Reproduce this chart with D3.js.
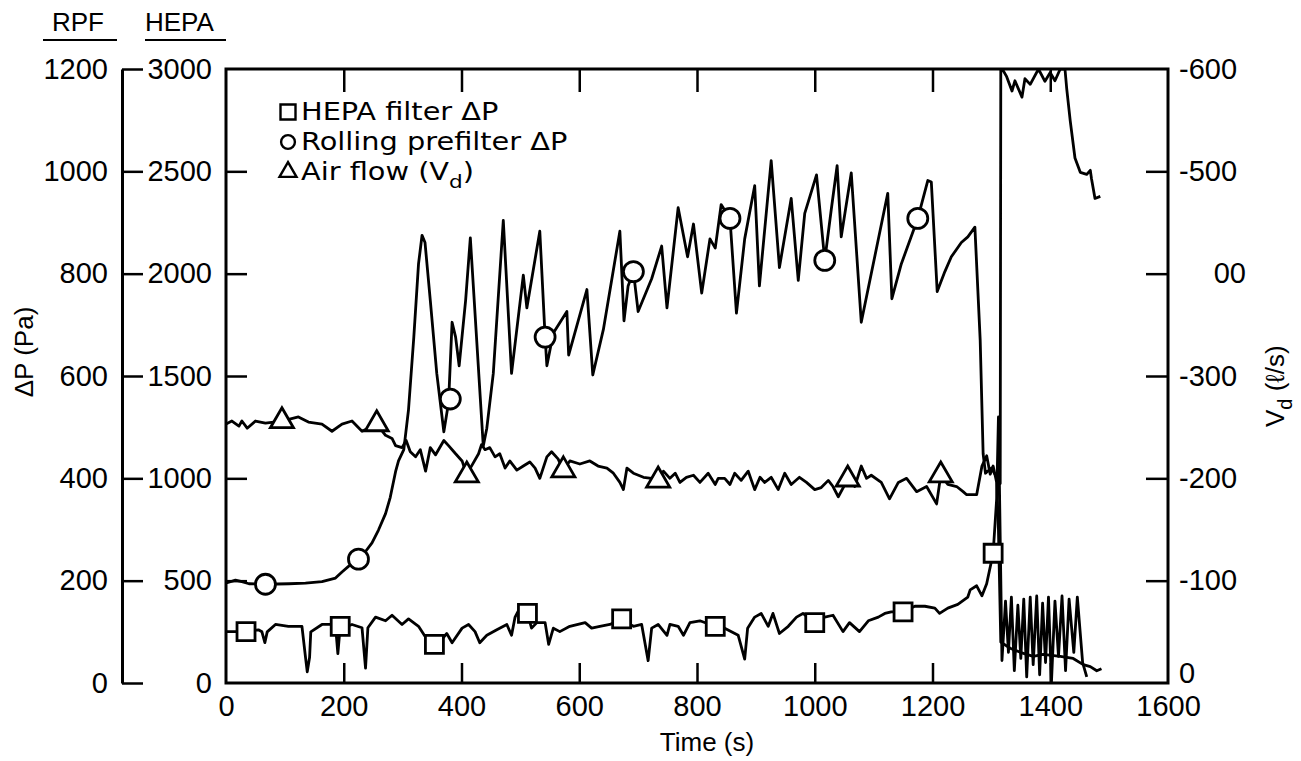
<!DOCTYPE html>
<html>
<head>
<meta charset="utf-8">
<script src="https://cdn.jsdelivr.net/npm/d3@7"></script>
<style>
  body { margin: 0; background: #fff; }
  svg { display: block; }
  .tick text { font-family: "Liberation Sans", Arial, sans-serif; font-size: 29px; fill: #000; }
  .tick line { stroke: #000; stroke-width: 2.5; }
  .lbl { font-family: "Liberation Sans", Arial, sans-serif; fill: #000; }
</style>
</head>
<body>
<svg id="chart" width="1301" height="761"></svg>
<script>
// ---- data ----
const timeTicks = [0, 200, 400, 600, 800, 1000, 1200, 1400, 1600];
const hepaTicks = [0, 500, 1000, 1500, 2000, 2500, 3000];
const rpfTicks = [0, 200, 400, 600, 800, 1000, 1200];
const flowTicks = [0, 100, 200, 300, 400, 500, 600];
const flowTickLabels = ["0", "-100", "-200", "-300", "00", "-500", "-600"];

// rolling prefilter dP (Pa, RPF axis)
const rpfTime = [0, 2, 16, 27, 39, 67, 107, 135, 163, 186, 197, 208, 225, 237, 248, 259, 271, 279, 288, 293, 302, 310, 319, 327, 333, 338, 347, 358, 370, 378, 384, 390, 396, 407, 415,
  437, 443, 454, 471, 485, 505, 511, 533, 542, 545, 556, 579, 582, 613, 623, 641, 669, 676, 683, 692, 700, 723, 740, 749, 768, 784, 794, 808, 822, 831,
  841, 856, 867, 881, 898, 906, 926, 940, 960, 972, 983, 1003, 1017, 1028, 1038, 1045, 1062, 1079, 1124, 1131, 1147, 1175, 1192, 1198, 1208, 1221, 1232, 1249, 1260, 1272,
  1281, 1286, 1290, 1300, 1310, 1315, 1316, 1326, 1335, 1340, 1352, 1357, 1366, 1380, 1391, 1400, 1408, 1417, 1425, 1428, 1434, 1442, 1451, 1462, 1468, 1470, 1476, 1485];
const rpfDP = [198, 196, 201, 198, 194, 193, 194, 195, 198, 205, 217, 228, 242, 257, 274, 299, 331, 363, 413, 434, 456, 534, 676, 819, 875, 861, 748, 605, 491, 548, 705, 676, 620, 748, 870,
  463, 498, 605, 904, 605, 797, 733, 883, 676, 620, 684, 726, 641, 769, 602, 691, 883, 708, 776, 804, 726, 790, 854, 733, 929, 833, 897, 762, 868, 850,
  935, 908, 723, 868, 972, 776, 1021, 812, 947, 787, 918, 993, 826, 925, 1011, 872, 997, 705, 957, 751, 819, 908, 982, 979, 765, 804, 833, 861, 872, 891,
  670, 448, 410, 420, 400, 390, 1205, 1185, 1157, 1177, 1145, 1181, 1170, 1200, 1176, 1193, 1177, 1200, 1200, 1161, 1098, 1026, 998, 994, 1002, 986, 947, 951];
const rpfMarkTime = [67, 225, 381, 542, 692, 856, 1017, 1175];
const rpfMarkDP = [193, 242, 555, 676, 804, 908, 826, 908];

// HEPA filter dP (Pa, HEPA axis)
const hepaTime = [0, 34, 55, 61, 66, 70, 84, 106, 129, 135, 138, 142, 144, 163, 180, 186, 190, 194, 200, 214, 231, 237, 241, 254, 271, 282, 299, 310, 327, 341, 354, 367, 375, 384, 401, 412,
  423, 431, 443, 460, 477, 485, 491, 499, 512, 519, 528, 542, 548, 556, 567, 584, 610, 621, 635, 652, 672, 681, 692, 706, 717, 723, 734, 749, 754, 768, 777, 788, 805, 822, 831,
  847, 870, 881, 886, 898, 909, 921, 929, 940, 955, 969, 980, 1000, 1017, 1031, 1048, 1059, 1076, 1091, 1108, 1119, 1130, 1150, 1170, 1187, 1204, 1212, 1226, 1243, 1260, 1264, 1275, 1284, 1292, 1303, 1309, 1312,
  1318, 1324, 1329, 1334, 1339, 1345, 1350, 1355, 1360, 1366, 1371, 1377, 1382, 1387, 1392, 1397, 1402, 1408, 1414, 1420, 1426, 1432, 1440, 1446, 1455, 1462];
const hepaDP = [251, 251, 260, 250, 197, 250, 286, 277, 277, 126, 55, 126, 250, 286, 286, 280, 144, 277, 270, 286, 270, 73, 270, 322, 304, 331, 286, 313, 277, 215, 189, 215, 242, 197, 268, 286,
  251, 197, 233, 260, 286, 233, 322, 366, 340, 268, 295, 295, 189, 268, 251, 277, 295, 268, 277, 286, 313, 295, 277, 286, 109, 268, 286, 233, 286, 277, 233, 295, 304, 286, 277,
  268, 233, 117, 268, 322, 340, 277, 340, 242, 277, 322, 340, 295, 322, 331, 251, 295, 251, 304, 322, 340, 348, 348, 375, 375, 366, 340, 366, 384, 420, 455, 475, 426, 485, 634, 900, 1300,
  110, 400, 150, 420, 60, 380, 120, 410, 30, 420, 90, 425, 40, 390, 100, 420, 0, 400, 130, 425, 60, 410, 150, 420, 100, 30];
const hepaMarkTime = [34, 194, 354, 512, 672, 831, 1000, 1150, 1303];
const hepaMarkDP = [251, 277, 189, 340, 313, 277, 295, 348, 634];

// air flow Vd (l/s, right axis)
const flowTime = [0, 10, 22, 27, 36, 50, 67, 95, 123, 140, 163, 180, 197, 214, 231, 256, 271, 282, 288, 299, 306, 313, 322, 330, 339, 347, 356, 370, 378, 390, 401, 409,
  415, 429, 434, 440, 448, 457, 465, 474, 482, 494, 505, 516, 525, 533, 545, 553, 564, 573, 584, 601, 618, 632, 647, 658, 669, 675, 681, 692, 709, 723, 734,
  743, 754, 763, 771, 782, 794, 805, 819, 831, 836, 847, 856, 864, 875, 887, 898, 907, 915, 926, 938, 949, 960, 974, 986, 1000, 1011, 1023, 1031, 1040, 1056,
  1068, 1079, 1088, 1096, 1113, 1127, 1142, 1156, 1173, 1190, 1207, 1214, 1226, 1241, 1252, 1258, 1275, 1284, 1292, 1298, 1303, 1309, 1312, 1316,
  1332, 1349, 1371, 1388, 1417, 1439, 1456, 1468, 1479, 1487];
const flowVd = [253, 256, 251, 256, 249, 256, 254, 256, 260, 255, 253, 246, 253, 256, 246, 253, 242, 239, 232, 230, 237, 226, 221, 228, 207, 230, 223, 237, 232, 224, 217, 203,
  210, 224, 233, 228, 230, 221, 224, 210, 217, 208, 212, 216, 210, 200, 221, 226, 219, 208, 217, 214, 217, 212, 210, 205, 196, 189, 210, 205, 201, 200, 198,
  207, 200, 205, 196, 201, 203, 196, 205, 194, 200, 200, 194, 205, 198, 207, 189, 201, 196, 201, 189, 205, 194, 201, 196, 189, 191, 198, 192, 182, 199,
  192, 212, 200, 203, 196, 180, 196, 200, 187, 192, 175, 203, 194, 192, 187, 184, 184, 212, 222, 204, 212, 196, 150, 40,
  34, 30, 26, 28, 26, 24, 18, 16, 12, 14];
const flowMarkTime = [95, 256, 409, 573, 734, 1056, 1214];
const flowMarkVd = [256, 253, 203, 208, 198, 199, 203];

// ---- chart ----
const svg = d3.select("#chart");

const x = d3.scaleLinear().domain([0, 1600]).range([226, 1168]);
const yHepa = d3.scaleLinear().domain([0, 3000]).range([683, 69]);
const yRpf = d3.scaleLinear().domain([0, 1200]).range([683, 69]);
const yFlow = d3.scaleLinear().domain([0, 600]).range([683, 69]);
const fmt = d3.format("d");

svg.append("defs").append("clipPath").attr("id", "plot")
  .append("rect")
  .attr("x", x(0)).attr("y", yHepa(3000))
  .attr("width", x(1600) - x(0)).attr("height", yHepa(0) - yHepa(3000));

// bottom axis, ticks point inward
const xb = svg.append("g")
  .attr("transform", `translate(0,${yHepa(0)})`)
  .call(d3.axisBottom(x).tickValues(timeTicks).tickFormat(fmt).tickSizeInner(-20).tickSizeOuter(0).tickPadding(12));
xb.select(".domain").remove();
xb.selectAll(".tick").filter(d => d === 0 || d === 1600).select("line").remove();

// top axis, ticks only
const xt = svg.append("g")
  .attr("transform", `translate(0,${yHepa(3000)})`)
  .call(d3.axisTop(x).tickValues(timeTicks.slice(1, -1)).tickSizeInner(-23).tickSizeOuter(0).tickFormat(""));
xt.select(".domain").remove();

// HEPA axis on the frame
const yh = svg.append("g")
  .attr("transform", `translate(${x(0)},0)`)
  .call(d3.axisLeft(yHepa).tickValues(hepaTicks).tickFormat(fmt).tickSizeInner(-21).tickSizeOuter(0).tickPadding(14));
yh.select(".domain").remove();
yh.selectAll(".tick").filter(d => d === 0 || d === 3000).select("line").remove();

// RPF axis, separate line further left
const yr = svg.append("g")
  .attr("transform", "translate(122,0)")
  .call(d3.axisLeft(yRpf).tickValues(rpfTicks).tickFormat(fmt).tickSizeInner(-21).tickSizeOuter(0).tickPadding(14));
yr.select(".domain").attr("stroke-width", 3);

// Vd axis on the right
const yf = svg.append("g")
  .attr("transform", `translate(${x(1600)},0)`)
  .call(d3.axisRight(yFlow).tickValues(flowTicks).tickSizeInner(-22).tickSizeOuter(0).tickPadding(11)
    .tickFormat((d, i) => flowTickLabels[i]));
yf.select(".domain").remove();
yf.selectAll(".tick").filter(d => d === 0 || d === 600).select("line").remove();
yf.selectAll(".tick").filter(d => d === 400).select("text").attr("text-anchor", "end").attr("x", 78);
yf.selectAll(".tick").filter(d => d === 0).select("text").attr("y", -10);

// frame
svg.append("rect")
  .attr("x", x(0)).attr("y", yHepa(3000))
  .attr("width", x(1600) - x(0)).attr("height", yHepa(0) - yHepa(3000))
  .attr("fill", "none").attr("stroke", "#000").attr("stroke-width", 3);

// lines
const series = [
  { t: rpfTime, v: rpfDP, y: yRpf },
  { t: hepaTime, v: hepaDP, y: yHepa },
  { t: flowTime, v: flowVd, y: yFlow }
];
const plot = svg.append("g").attr("clip-path", "url(#plot)");
series.forEach(s => {
  const line = d3.line().x(i => x(s.t[i])).y(i => s.y(s.v[i]));
  plot.append("path")
    .attr("d", line(d3.range(s.t.length)))
    .attr("fill", "none").attr("stroke", "#000")
    .attr("stroke-width", 2.8).attr("stroke-linejoin", "round");
});

// markers
const markers = [
  { t: hepaMarkTime, v: hepaMarkDP, y: yHepa, sym: d3.symbolSquare, size: 324 },
  { t: rpfMarkTime, v: rpfMarkDP, y: yRpf, sym: d3.symbolCircle, size: 314 },
  { t: flowMarkTime, v: flowMarkVd, y: yFlow, sym: d3.symbolTriangle, size: 230 }
];
markers.forEach(m => {
  svg.append("g").selectAll("path")
    .data(d3.range(m.t.length))
    .enter().append("path")
    .attr("transform", i => `translate(${x(m.t[i])},${m.y(m.v[i])})`)
    .attr("d", d3.symbol().type(m.sym).size(m.size))
    .attr("fill", "#fff").attr("stroke", "#000").attr("stroke-width", 2.8);
});

// legend
const legend = [
  { sym: d3.symbolSquare, size: 225, text: "HEPA filter \u0394P" },
  { sym: d3.symbolCircle, size: 150, text: "Rolling prefilter \u0394P" },
  { sym: d3.symbolTriangle, size: 125, text: "Air flow (V" }
];
legend.forEach((l, i) => {
  const cy = 112 + i * 30;
  svg.append("path")
    .attr("transform", `translate(288,${cy})`)
    .attr("d", d3.symbol().type(l.sym).size(l.size))
    .attr("fill", "#fff").attr("stroke", "#000").attr("stroke-width", 2.4);
  const t = svg.append("text").attr("class", "lbl")
    .attr("transform", `translate(301,${cy + 8}) scale(1.2,1)`)
    .style("font-family", "'DejaVu Sans', sans-serif")
    .style("font-size", "24px")
    .text(l.text);
  if (i === 2) {
    t.append("tspan").attr("dy", 8).style("font-size", "18px").text("d");
    t.append("tspan").attr("dy", -8).text(")");
  }
});

// axis headers
[["RPF", 52, 43, 117], ["HEPA", 145, 145, 226]].forEach(h => {
  svg.append("text").attr("class", "lbl")
    .attr("x", h[1]).attr("y", 31)
    .style("font-size", "26px").text(h[0]);
  svg.append("line")
    .attr("x1", h[2]).attr("x2", h[3]).attr("y1", 40).attr("y2", 40)
    .attr("stroke", "#000").attr("stroke-width", 2);
});

// axis titles
svg.append("text").attr("class", "lbl")
  .attr("x", 707).attr("y", 751).attr("text-anchor", "middle")
  .style("font-size", "26px").text("Time (s)");

svg.append("text").attr("class", "lbl")
  .attr("transform", "translate(33,352) rotate(-90)").attr("text-anchor", "middle")
  .style("font-size", "26px").text("\u0394P (Pa)");

const vt = svg.append("text").attr("class", "lbl")
  .attr("transform", "translate(1284,427) rotate(-90)")
  .style("font-size", "26px").text("V");
vt.append("tspan").attr("dy", 8).style("font-size", "20px").text("d");
vt.append("tspan").attr("dy", -8).text(" (\u2113/s)");
</script>
</body>
</html>
